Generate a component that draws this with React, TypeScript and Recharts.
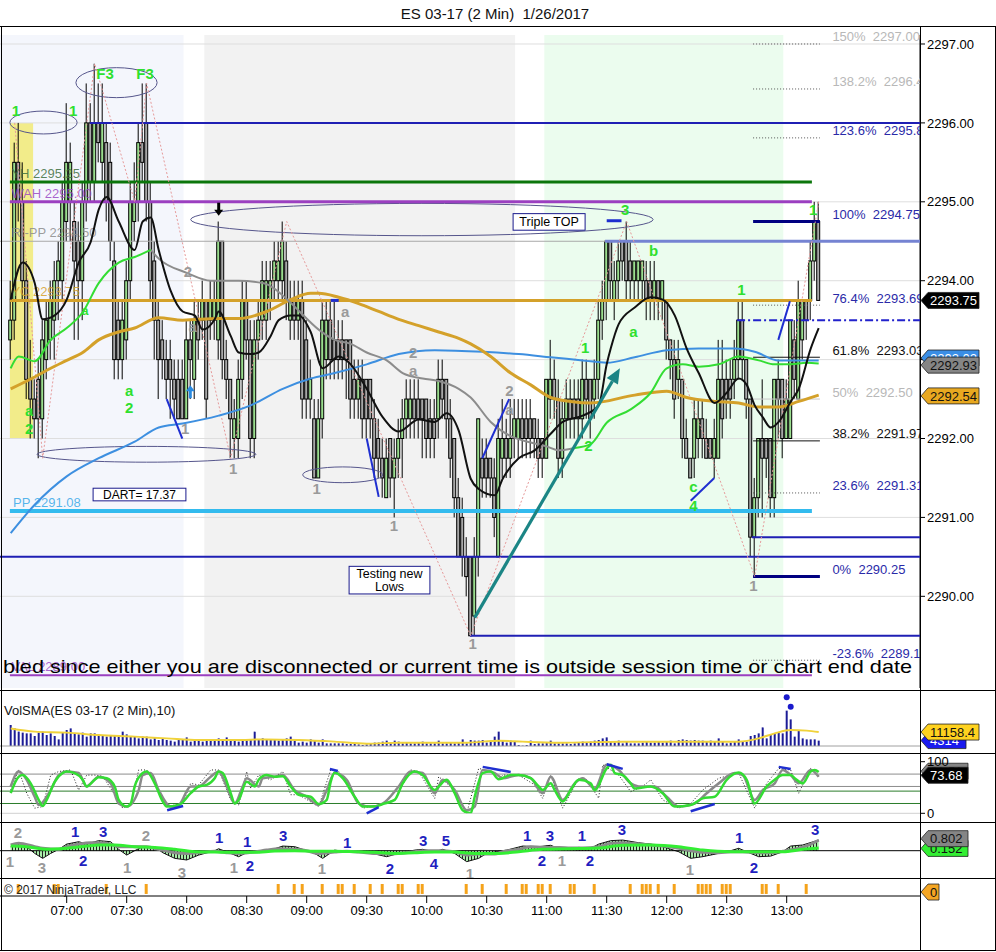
import React from "react";
import {
  ComposedChart, Bar, Line, Area, XAxis, YAxis, ReferenceLine, ReferenceArea, ReferenceDot,
} from "recharts";

const FONT = "'Liberation Sans', Arial, Helvetica, sans-serif";
const CW = 996;
const XD: [number, number] = [-2.675, 227.325];
const PD: [number, number] = [2288.838, 2297.114];

const priceTicks = [2290, 2291, 2292, 2293, 2294, 2295, 2296, 2297];
const timeTicks = [14, 29, 44, 59, 74, 89, 104, 119, 134, 149, 164, 179, 194];
const timeLabels = ["07:00", "07:30", "08:00", "08:30", "09:00", "09:30", "10:00", "10:30", "11:00", "11:30", "12:00", "12:30", "13:00"];

const opens = [
  2293.25, 2293.5, 2295.5, 2295.0, 2294.0, 2292.75, 2292.5, 2292.75, 2292.25, 2293.0,
  2293.25, 2293.5, 2294.0, 2294.0, 2294.75, 2295.0, 2294.75, 2294.5, 2294.0, 2295.0,
  2296.0, 2295.25, 2296.0, 2295.5, 2295.75, 2295.5, 2294.25, 2293.5, 2293.0, 2293.25,
  2294.0, 2294.75, 2295.0, 2295.75, 2296.0, 2295.0, 2294.25, 2293.5, 2293.25, 2293.0,
  2293.0, 2292.75, 2292.75, 2292.75, 2292.25, 2293.25, 2292.75, 2293.5, 2293.5, 2293.75,
  2293.5, 2293.5, 2293.25, 2294.5, 2293.0, 2292.75, 2292.0, 2292.0, 2292.75, 2293.75,
  2293.25, 2292.0, 2293.25, 2293.5, 2293.5, 2293.75, 2294.0, 2294.0, 2294.0, 2294.25,
  2293.5, 2293.75, 2293.5, 2293.75, 2293.25, 2292.5, 2292.25, 2291.5, 2292.25, 2293.0,
  2293.5, 2293.25, 2293.25, 2293.25, 2293.25, 2293.25, 2292.75, 2292.5, 2292.75, 2292.75,
  2292.75, 2292.25, 2292.0, 2291.75, 2291.25, 2292.0, 2291.5, 2291.75, 2292.0, 2292.25,
  2292.25, 2292.5, 2292.5, 2292.5, 2292.5, 2292.25, 2292.25, 2292.25, 2292.75, 2292.75,
  2292.25, 2292.0, 2291.25, 2291.0, 2290.5, 2290.5, 2289.75, 2290.5, 2291.75, 2291.75,
  2291.75, 2291.5, 2290.5, 2291.75, 2292.0, 2291.75, 2292.0, 2292.0, 2292.25, 2292.25,
  2292.25, 2292.25, 2292.0, 2292.0, 2291.75, 2292.5, 2292.75, 2292.5, 2291.75, 2292.25,
  2292.5, 2292.5, 2292.5, 2292.25, 2292.75, 2292.75, 2292.5, 2292.75, 2293.5, 2293.75,
  2294.5, 2293.75, 2294.0, 2294.5, 2294.5, 2294.25, 2294.0, 2294.0, 2294.0, 2294.0,
  2294.0, 2293.75, 2294.0, 2293.75, 2293.75, 2293.25, 2293.0, 2292.75, 2292.75, 2292.0,
  2291.75, 2291.75, 2292.0, 2292.25, 2292.0, 2292.0, 2291.75, 2291.75, 2292.75, 2292.75,
  2292.75, 2292.75, 2293.0, 2293.5, 2293.0, 2292.5, 2290.75, 2291.25, 2292.0, 2292.0,
  2292.0, 2291.25, 2292.75, 2292.75, 2292.0, 2292.0, 2293.25, 2292.5, 2293.25, 2293.75,
  2293.75, 2294.25, 2294.75,
];
const highs = [
  2294.0, 2295.75, 2296.0, 2295.5, 2294.25, 2293.25, 2292.75, 2293.0, 2293.5, 2293.75,
  2294.0, 2294.25, 2294.5, 2295.25, 2296.25, 2295.75, 2295.0, 2294.75, 2295.25, 2296.5,
  2296.25, 2296.75, 2296.5, 2296.5, 2296.0, 2295.75, 2294.5, 2293.75, 2293.75, 2294.25,
  2295.25, 2295.5, 2296.0, 2296.5, 2296.5, 2295.25, 2294.5, 2293.75, 2293.5, 2293.25,
  2293.25, 2293.0, 2293.0, 2293.0, 2293.5, 2293.5, 2293.75, 2293.75, 2294.0, 2293.75,
  2294.0, 2294.0, 2294.75, 2294.5, 2293.25, 2292.75, 2292.5, 2293.0, 2294.0, 2294.0,
  2293.5, 2293.5, 2293.75, 2294.25, 2294.25, 2294.25, 2294.5, 2294.5, 2294.75, 2294.5,
  2294.0, 2294.0, 2294.0, 2294.0, 2293.5, 2293.0, 2292.5, 2292.5, 2293.75, 2293.75,
  2293.75, 2293.75, 2293.5, 2293.5, 2293.25, 2293.25, 2293.0, 2293.0, 2293.0, 2292.75,
  2292.75, 2292.5, 2292.25, 2292.0, 2292.0, 2292.0, 2292.0, 2292.25, 2292.5, 2292.75,
  2292.75, 2292.75, 2292.75, 2292.5, 2292.5, 2292.5, 2292.5, 2293.0, 2293.0, 2292.75,
  2292.5, 2292.0, 2291.5, 2291.25, 2290.75, 2290.5, 2290.75, 2292.25, 2292.0, 2292.0,
  2291.75, 2291.75, 2292.25, 2292.5, 2292.25, 2292.5, 2292.5, 2292.5, 2292.5, 2292.5,
  2292.5, 2292.25, 2292.25, 2292.0, 2292.75, 2293.25, 2293.0, 2292.75, 2292.5, 2292.75,
  2292.75, 2292.75, 2292.75, 2293.0, 2293.0, 2292.75, 2293.0, 2293.75, 2294.0, 2294.5,
  2294.5, 2294.25, 2294.5, 2294.5, 2294.75, 2294.5, 2294.25, 2294.25, 2294.25, 2294.25,
  2294.25, 2294.25, 2294.0, 2294.0, 2293.75, 2293.25, 2293.25, 2293.25, 2292.75, 2292.25,
  2291.75, 2292.5, 2292.5, 2292.5, 2292.25, 2292.0, 2292.25, 2293.25, 2293.25, 2293.0,
  2293.0, 2293.25, 2293.75, 2293.75, 2293.0, 2292.5, 2291.5, 2292.0, 2292.75, 2292.0,
  2292.0, 2292.75, 2293.0, 2292.75, 2292.75, 2293.5, 2293.5, 2294.0, 2293.75, 2293.75,
  2294.5, 2295.0, 2295.0,
];
const lows = [
  2293.0, 2293.25, 2294.75, 2293.75, 2292.5, 2292.0, 2292.0, 2291.75, 2292.0, 2292.75,
  2293.0, 2293.0, 2293.5, 2293.75, 2294.5, 2294.5, 2293.25, 2293.25, 2293.5, 2294.75,
  2295.0, 2295.0, 2295.5, 2295.25, 2294.75, 2294.25, 2292.75, 2292.75, 2292.75, 2293.0,
  2293.75, 2294.5, 2294.75, 2295.25, 2294.75, 2293.75, 2293.0, 2292.5, 2292.75, 2292.5,
  2292.25, 2292.25, 2292.25, 2292.25, 2292.25, 2292.5, 2292.5, 2293.0, 2293.25, 2292.25,
  2293.25, 2293.25, 2293.0, 2292.75, 2292.5, 2291.75, 2291.75, 2291.75, 2292.5, 2293.0,
  2291.75, 2291.75, 2293.0, 2293.25, 2293.25, 2293.5, 2293.75, 2293.75, 2293.75, 2293.5,
  2293.25, 2293.25, 2293.25, 2292.25, 2292.25, 2292.25, 2291.5, 2291.5, 2292.0, 2292.75,
  2292.75, 2292.75, 2292.75, 2292.75, 2292.5, 2292.25, 2292.25, 2292.25, 2292.0, 2292.0,
  2292.0, 2291.5, 2291.5, 2291.25, 2291.25, 2291.25, 2291.0, 2291.5, 2291.5, 2292.0,
  2292.0, 2292.0, 2292.0, 2291.75, 2291.75, 2291.75, 2291.75, 2292.0, 2292.25, 2292.0,
  2291.5, 2291.0, 2290.5, 2290.25, 2290.0, 2289.5, 2289.5, 2290.25, 2291.25, 2291.25,
  2291.25, 2290.75, 2290.5, 2291.5, 2291.5, 2291.5, 2291.75, 2291.75, 2291.75, 2291.75,
  2291.75, 2291.75, 2291.5, 2291.5, 2291.75, 2292.25, 2292.25, 2291.5, 2291.5, 2292.0,
  2292.0, 2292.0, 2292.0, 2292.0, 2292.25, 2292.0, 2292.25, 2292.5, 2293.25, 2293.5,
  2293.75, 2293.5, 2293.75, 2294.0, 2293.75, 2293.75, 2293.75, 2293.75, 2293.75, 2293.5,
  2293.5, 2293.5, 2293.5, 2293.5, 2293.0, 2292.75, 2292.25, 2292.5, 2291.75, 2291.75,
  2291.5, 2291.5, 2291.75, 2291.75, 2291.75, 2291.75, 2291.5, 2291.75, 2292.0, 2292.25,
  2292.25, 2292.5, 2292.75, 2292.75, 2292.25, 2290.5, 2290.25, 2291.0, 2291.0, 2291.5,
  2291.0, 2291.0, 2292.0, 2291.75, 2292.0, 2292.0, 2292.5, 2292.5, 2293.0, 2293.25,
  2293.5, 2294.0, 2293.75,
];
const closes = [
  2293.5, 2295.5, 2295.0, 2294.0, 2292.75, 2292.5, 2292.25, 2292.25, 2293.25, 2293.5,
  2293.75, 2294.0, 2294.25, 2295.0, 2295.5, 2295.5, 2294.25, 2294.0, 2295.0, 2296.0,
  2295.25, 2296.0, 2295.75, 2296.0, 2295.0, 2294.5, 2293.0, 2293.0, 2293.5, 2294.0,
  2295.0, 2295.0, 2295.75, 2295.5, 2295.0, 2294.0, 2293.5, 2293.0, 2293.0, 2292.75,
  2292.75, 2292.5, 2292.25, 2292.25, 2293.25, 2293.0, 2293.5, 2293.25, 2293.75, 2292.5,
  2293.75, 2293.75, 2294.5, 2293.0, 2292.75, 2292.25, 2292.25, 2292.75, 2293.75, 2293.25,
  2292.0, 2293.25, 2293.5, 2294.0, 2294.0, 2294.0, 2294.25, 2294.25, 2294.5, 2293.75,
  2293.75, 2293.5, 2293.75, 2292.5, 2292.5, 2292.75, 2291.5, 2292.25, 2293.5, 2293.5,
  2293.0, 2293.0, 2293.0, 2293.0, 2293.0, 2292.5, 2292.5, 2292.75, 2292.25, 2292.25,
  2292.25, 2291.75, 2291.75, 2291.5, 2291.75, 2291.5, 2291.75, 2292.0, 2292.25, 2292.5,
  2292.5, 2292.25, 2292.25, 2292.25, 2292.0, 2292.0, 2292.0, 2292.75, 2292.5, 2292.25,
  2291.75, 2291.25, 2290.5, 2290.5, 2290.25, 2289.5, 2290.5, 2292.25, 2291.5, 2291.5,
  2291.5, 2291.0, 2292.0, 2292.0, 2291.75, 2292.0, 2292.25, 2292.25, 2292.0, 2292.0,
  2292.0, 2292.0, 2291.75, 2291.75, 2292.75, 2292.75, 2292.5, 2291.75, 2292.25, 2292.5,
  2292.25, 2292.25, 2292.25, 2292.75, 2292.5, 2292.25, 2292.75, 2293.5, 2293.75, 2294.5,
  2294.0, 2294.0, 2294.25, 2294.25, 2294.0, 2294.0, 2294.25, 2294.25, 2294.25, 2293.75,
  2293.75, 2294.0, 2293.75, 2294.0, 2293.25, 2293.0, 2292.5, 2293.0, 2292.0, 2291.75,
  2291.5, 2292.25, 2292.25, 2292.0, 2291.75, 2291.75, 2292.0, 2292.75, 2292.25, 2292.5,
  2292.5, 2293.0, 2293.5, 2293.0, 2292.5, 2290.75, 2291.25, 2292.0, 2291.75, 2291.75,
  2291.25, 2292.75, 2292.5, 2292.0, 2292.5, 2293.5, 2292.75, 2293.75, 2293.75, 2293.5,
  2294.25, 2294.75, 2293.75,
];
const volumes = [
  16800, 14100, 11500, 10700, 10100, 10100, 8000, 10700, 11500, 8800,
  10100, 8000, 5300, 10700, 12800, 14100, 10100, 9300, 10700, 7500,
  10100, 10100, 8800, 8000, 7500, 8000, 8800, 7500, 11500, 9300,
  7500, 8000, 6100, 7500, 7500, 5300, 6900, 4800, 6100, 4800,
  4300, 3500, 4800, 5300, 6900, 3500, 4800, 4300, 3500, 4800,
  4300, 4300, 6100, 5300, 6900, 5300, 4800, 3500, 4300, 5300,
  5300, 11500, 4800, 6100, 5300, 4800, 5300, 4300, 4800, 6100,
  7500, 4300, 2700, 3500, 2700, 5300, 4800, 2700, 5300, 2100,
  2100, 2100, 2100, 2100, 1600, 1600, 1600, 1300, 800, 1300,
  1600, 2700, 2700, 3500, 4300, 2700, 4300, 3500, 2100, 2700,
  2100, 2100, 2700, 3500, 2100, 2100, 2100, 4300, 2100, 2100,
  2700, 2100, 2700, 5300, 2100, 4800, 4300, 4300, 4800, 2700,
  4300, 7500, 11500, 4800, 2700, 4300, 3500, 800, 300, 800,
  4300, 1600, 2100, 2100, 2700, 4300, 2100, 2100, 2100, 2100,
  1600, 2100, 2700, 3500, 2700, 3500, 4300, 4800, 6100, 6900,
  3500, 2700, 4300, 2100, 3500, 2100, 2100, 2100, 2700, 3500,
  2700, 2700, 3500, 2700, 3500, 4300, 2100, 4800, 5300, 4800,
  4300, 4800, 4300, 4300, 3500, 4300, 3500, 6100, 3500, 2100,
  2700, 3500, 5300, 3500, 3500, 8000, 8800, 10100, 14900, 6100,
  8800, 10100, 10700, 10100, 28300, 21300, 7500, 12800, 6100, 5300,
  5300, 5300, 4300,
];

const blackMA: [number, number][] = [
  [0, 2293.76], [3, 2294.23], [6, 2293.97], [8, 2293.51], [11, 2293.56], [14, 2293.76], [17, 2294.23], [20, 2294.49],
  [22, 2294.9], [24, 2295.06], [27, 2294.75], [31, 2294.39], [33, 2294.75], [35, 2294.8], [37, 2294.39], [40, 2293.87],
  [43, 2293.61], [46, 2293.56], [48, 2293.38], [51, 2293.51], [52, 2293.61], [55, 2293.3], [57, 2293.09], [60, 2293.07],
  [62, 2293.09], [65, 2293.3], [67, 2293.5], [70, 2293.56], [72, 2293.56], [75, 2293.35], [78, 2292.89], [82, 2293.04],
  [85, 2292.94], [89, 2292.63], [93, 2292.27], [97, 2292.09], [102, 2292.24], [106, 2292.21], [109, 2292.32], [112, 2292.1],
  [115, 2291.49], [117, 2291.36], [121, 2291.28], [123, 2291.49], [127, 2291.75], [131, 2291.85], [135, 2292.06], [138, 2292.21],
  [143, 2292.29], [147, 2292.42], [149, 2292.94], [150, 2293.14], [152, 2293.45], [156, 2293.66], [160, 2293.79], [163, 2293.76],
  [166, 2293.56], [169, 2293.14], [172, 2292.83], [176, 2292.45], [179, 2292.58], [182, 2292.76], [184, 2292.68], [186, 2292.42],
  [188, 2292.27], [190, 2292.14], [192, 2292.21], [195, 2292.47], [197, 2292.63], [200, 2293.14], [202, 2293.4],
];
const greenMA1: [number, number][] = [
  [0, 2292.89], [2, 2293.04], [6, 2292.98], [10, 2293.25], [14, 2293.4], [18, 2293.6], [22, 2293.97], [27, 2294.23], [31, 2294.3], [35, 2294.39],
];
const grayMA: [number, number][] = [
  [35, 2294.39], [37, 2294.28], [44, 2294.1], [50, 2294.0], [57, 2294.0], [63, 2293.97], [70, 2293.72], [72, 2293.62], [77, 2293.38],
  [81, 2293.25], [85, 2293.2], [89, 2293.09], [94, 2292.99], [98, 2292.83], [103, 2292.76], [107, 2292.73], [112, 2292.63],
  [115, 2292.52], [120, 2292.21], [125, 2292.03], [130, 2291.95], [134, 2291.9], [137, 2291.85], [141, 2291.88],
];
const greenMA2: [number, number][] = [
  [141, 2291.88], [145, 2291.93], [149, 2292.2], [155, 2292.37], [160, 2292.58], [164, 2292.89], [168, 2292.94], [172, 2292.91],
  [177, 2292.94], [182, 2293.04], [187, 2292.99], [191, 2292.94], [195, 2292.94], [199, 2292.96], [202, 2292.95],
];
const goldMA: [number, number][] = [
  [0, 2292.63], [6, 2292.78], [10, 2292.89], [14, 2292.99], [18, 2293.09], [22, 2293.25], [27, 2293.35], [31, 2293.4], [37, 2293.53],
  [43, 2293.5], [52, 2293.52], [57, 2293.52], [64, 2293.61], [70, 2293.76], [75, 2293.84], [77, 2293.84], [82, 2293.79], [87, 2293.71],
  [92, 2293.61], [97, 2293.51], [102, 2293.43], [107, 2293.35], [112, 2293.27], [115, 2293.2], [120, 2293.04], [125, 2292.83],
  [130, 2292.68], [135, 2292.52], [140, 2292.47], [145, 2292.45], [156, 2292.55], [164, 2292.6], [169, 2292.52], [176, 2292.47],
  [182, 2292.45], [187, 2292.4], [192, 2292.4], [197, 2292.47], [202, 2292.55],
];
const blueMA: [number, number][] = [
  [0, 2290.8], [6, 2291.16], [14, 2291.52], [22, 2291.75], [31, 2291.96], [37, 2292.14], [43, 2292.19], [52, 2292.29], [60, 2292.42],
  [68, 2292.63], [75, 2292.76], [81, 2292.83], [89, 2292.94], [97, 2293.07], [106, 2293.12], [118, 2293.1], [127, 2293.07],
  [135, 2293.03], [143, 2292.99], [149, 2292.96], [156, 2293.03], [164, 2293.12], [172, 2293.14], [181, 2293.14], [186, 2293.1],
  [192, 2292.99], [202, 2292.99],
];
const zigzag: [number, number][] = [
  [1, 2296.0], [8, 2291.75], [21, 2296.75], [31, 2295.0], [34, 2296.5], [55, 2291.75], [69, 2294.75], [115, 2289.5],
  [154, 2294.75], [186, 2290.25], [202, 2295.0],
];
const volSMA: [number, number][] = [
  [0, 14000], [6, 11500], [14, 10700], [22, 8800], [31, 7500], [39, 6100], [47, 4800], [56, 4800], [64, 5300], [72, 4800],
  [81, 3500], [89, 1900], [97, 2700], [106, 2700], [114, 2700], [122, 4300], [128, 3500], [137, 2700], [153, 3500], [170, 3500],
  [182, 3500], [187, 6100], [191, 10100], [195, 12800], [199, 12300], [202, 11200],
];
const stochGreen: [number, number][] = [
  [0, 39], [2, 71], [3, 74], [5, 58], [7, 26], [8, 14], [9, 26], [11, 61], [13, 78], [14, 81], [16, 78], [18, 65], [19, 52], [21, 65],
  [22, 70], [24, 68], [26, 52], [27, 26], [29, 13], [30, 19], [31, 52], [33, 78], [34, 81], [36, 58], [38, 23], [39, 13], [42, 16],
  [45, 39], [47, 52], [49, 55], [51, 68], [52, 81], [53, 78], [55, 39], [56, 19], [57, 26], [59, 61], [61, 52], [62, 65], [64, 74],
  [66, 71], [68, 72], [70, 52], [72, 36], [75, 32], [77, 18], [79, 26], [80, 61], [81, 79], [83, 68], [86, 32], [88, 13], [91, 13],
  [93, 18], [96, 26], [98, 58], [101, 81], [103, 74], [106, 45], [107, 52], [109, 65], [111, 39], [113, 6], [115, 0], [116, 32],
  [118, 78], [120, 81], [122, 66], [125, 74], [127, 74], [130, 68], [132, 52], [133, 45], [135, 58], [136, 45], [138, 23], [140, 45],
  [142, 65], [145, 58], [146, 45], [149, 87], [150, 94], [151, 78], [153, 74], [155, 58], [156, 48], [160, 52], [163, 39], [166, 13],
  [170, 16], [173, 29], [176, 32], [179, 65], [182, 79], [184, 65], [186, 19], [189, 52], [191, 65], [193, 74], [195, 74], [196, 68],
  [198, 58], [200, 81], [201, 84], [202, 80],
];
const stochGray: [number, number][] = [
  [0, 52], [2, 81], [4, 65], [6, 32], [7, 16], [10, 45], [12, 74], [14, 81], [17, 78], [19, 52], [20, 58], [22, 71], [25, 58], [27, 19],
  [29, 13], [32, 45], [33, 74], [35, 78], [37, 45], [40, 13], [42, 16], [45, 52], [47, 52], [50, 71], [52, 81], [54, 52], [56, 19],
  [58, 52], [59, 68], [62, 52], [63, 68], [66, 71], [68, 74], [71, 45], [74, 32], [77, 16], [79, 45], [81, 78], [84, 65], [87, 19],
  [90, 13], [93, 19], [97, 52], [100, 81], [103, 78], [106, 39], [108, 65], [111, 45], [114, 6], [116, 13], [118, 84], [121, 78],
  [123, 68], [127, 74], [130, 68], [133, 39], [135, 71], [138, 26], [141, 58], [143, 68], [146, 48], [149, 94], [152, 84], [155, 58],
  [157, 52], [161, 52], [164, 32], [167, 13], [171, 19], [174, 39], [177, 58], [181, 78], [183, 74], [186, 26], [188, 45], [191, 58],
  [193, 84], [195, 74], [197, 58], [200, 84], [202, 71],
];
const stochDot: [number, number][] = [
  [0, 45], [2, 84], [4, 39], [6, 10], [8, 13], [10, 74], [12, 81], [15, 84], [17, 45], [19, 74], [21, 74], [23, 72], [26, 36], [28, 10],
  [30, 16], [32, 84], [34, 84], [37, 45], [39, 13], [43, 19], [45, 58], [47, 55], [50, 84], [52, 84], [55, 26], [57, 16], [59, 81],
  [60, 48], [62, 74], [65, 65], [68, 81], [70, 36], [72, 36], [77, 13], [80, 84], [82, 81], [85, 45], [88, 10], [92, 16], [96, 26],
  [100, 84], [102, 81], [106, 29], [107, 71], [110, 52], [114, 0], [117, 87], [120, 81], [122, 65], [123, 74], [127, 74], [131, 55],
  [133, 29], [135, 74], [138, 10], [142, 68], [144, 65], [147, 29], [148, 94], [152, 74], [155, 42], [158, 52], [160, 65], [163, 26],
  [167, 10], [170, 19], [173, 45], [177, 68], [182, 78], [186, 10], [189, 58], [192, 87], [195, 84], [197, 39], [200, 87], [202, 71],
];
const macdGray: [number, number][] = [
  [0, 0.38], [2, 0.49], [6, 0.27], [8, 0.16], [12, 0.09], [14, 0.27], [17, 0.44], [20, 0.53], [22, 0.53], [25, 0.44], [27, 0.27],
  [31, 0.27], [34, 0.27], [37, 0.09], [41, -0.13], [44, -0.18], [47, -0.13], [51, -0.04], [54, -0.13], [57, -0.18], [61, -0.09],
  [64, 0.04], [67, 0.13], [71, 0.09], [74, 0], [77, -0.18], [81, -0.09], [84, -0.04], [87, -0.09], [91, -0.18], [94, -0.22],
  [97, -0.18], [101, -0.07], [104, 0], [107, 0], [111, -0.07], [114, -0.29], [117, -0.22], [121, -0.22], [123, -0.07], [127, 0.09],
  [130, 0.27], [133, 0.22], [137, 0.22], [140, 0.18], [143, 0.18], [147, 0.27], [150, 0.49], [153, 0.53], [157, 0.44], [160, 0.38],
  [163, 0.31], [167, 0.16], [170, 0], [173, -0.11], [177, -0.13], [180, -0.07], [183, -0.07], [187, -0.13], [190, -0.13],
  [193, -0.04], [197, 0.16], [200, 0.44], [202, 0.7],
];
const macdGreen: [number, number][] = [
  [0, 0.31], [4, 0.27], [9, 0.09], [14, 0.16], [19, 0.31], [22, 0.38], [26, 0.38], [31, 0.27], [36, 0.22], [41, 0.09], [46, -0.07],
  [51, -0.09], [56, -0.11], [61, -0.11], [66, -0.02], [71, 0], [76, -0.04], [81, -0.04], [86, -0.07], [91, -0.11], [96, -0.18],
  [101, -0.13], [106, -0.09], [111, -0.09], [116, -0.18], [122, -0.18], [127, -0.07], [133, 0.09], [140, 0.13], [147, 0.18],
  [153, 0.36], [160, 0.38], [167, 0.27], [173, 0.04], [180, -0.07], [187, -0.07], [193, -0.07], [198, 0.09], [202, 0.18],
];
const macdHist: [number, number][] = [
  [0, 0.27], [2, 0.53], [4, 0.27], [6, -0.18], [8, -0.51], [10, -0.18], [12, 0.09], [14, 0.44], [17, 0.6], [19, 0.44], [21, 0.6],
  [22, 0.67], [25, 0.6], [27, 0.09], [29, -0.29], [31, 0], [33, 0.27], [36, 0.27], [38, -0.13], [41, -0.51], [44, -0.62], [47, -0.29],
  [51, 0], [52, 0.13], [55, -0.18], [57, -0.4], [59, -0.13], [62, -0.07], [66, 0.13], [68, 0.31], [71, 0.27], [73, 0.09], [76, -0.18],
  [78, -0.51], [81, 0.04], [84, -0.07], [87, -0.09], [91, -0.22], [94, -0.4], [97, -0.18], [101, 0.04], [103, 0.09], [106, -0.07],
  [108, 0.09], [111, -0.18], [114, -0.73], [117, -0.51], [119, -0.18], [124, 0.04], [128, 0.31], [132, 0.27], [135, 0.36],
  [138, 0.04], [142, 0.22], [145, 0.16], [147, 0.44], [150, 0.67], [153, 0.71], [157, 0.53], [160, 0.44], [163, 0.27], [167, -0.07],
  [170, -0.51], [173, -0.4], [177, -0.18], [180, 0], [182, 0.16], [185, -0.18], [187, -0.4], [190, -0.36], [193, -0.07], [195, 0.31],
  [198, 0.38], [202, 0.71],
];
const markerBars = [
  2, 11, 12, 24, 34, 67, 71, 73, 78, 82, 83, 86, 90, 93, 97, 98, 102, 103, 114, 118, 124, 128, 129, 132, 133, 135, 140, 141, 146,
  155, 158, 159, 160, 162, 166, 172, 173, 174, 175, 178, 179, 180, 188, 189, 192, 199,
];

const LV = { r2: 2296.0, yh: 2295.25, wah: 2295.0, ripp: 2294.5, top3: 2294.5, yc: 2293.75, pp: 2291.08, s1: 2290.5, low: 2289.5, lo2: 2290.75, val: 2289.0, dd: 2293.5 };
const fibPct = ["150%", "138.2%", "123.6%", "100%", "76.4%", "61.8%", "50%", "38.2%", "23.6%", "0%", "-23.6%"];
const fibPrice = [2297.0, 2296.43, 2295.81, 2294.75, 2293.69, 2293.03, 2292.5, 2291.97, 2291.31, 2290.25, 2289.19];
const fibKind = ["dot", "dot", "dot", "thick", "dot", "solid", "light", "solid", "dot", "thick", "dot"];
const fibTextColor = ["#b8b8b8", "#b8b8b8", "#2a2aa8", "#2a2aa8", "#2a2aa8", "#111", "#b8b8b8", "#111", "#2a2aa8", "#2a2aa8", "#2a2aa8"];

const greenLabels: [number, number, string][] = [
  [1.3, 2296.15, "1"], [15.6, 2296.15, "1"], [23.6, 2296.63, "F3"], [33.6, 2296.63, "F3"],
  [4.6, 2292.36, "a"], [4.6, 2292.13, "2"], [29.6, 2292.61, "a"], [29.6, 2292.39, "2"],
  [143.6, 2293.15, "1"], [153.6, 2294.9, "3"], [160.7, 2294.38, "b"], [155.7, 2293.36, "a"], [144.4, 2291.91, "2"],
  [182.7, 2293.89, "1"], [170.7, 2291.39, "c"], [170.7, 2291.15, "4"], [200.6, 2294.9, "1"],
];
const grayLabels: [number, number, string][] = [
  [44.3, 2294.11, "2"], [45.5, 2293.42, "a"], [43.6, 2292.13, "1"], [55.6, 2291.62, "1"], [76.5, 2291.36, "1"],
  [83.6, 2293.61, "a"], [100.6, 2293.09, "2"], [100.6, 2292.86, "a"], [95.8, 2290.89, "1"], [124.7, 2292.61, "2"],
  [124.7, 2292.37, "a"], [115.5, 2289.4, "1"], [185.7, 2290.14, "1"],
];
const ellipses: [number, number, number, number][] = [
  [-0.2, 16.6, 2295.86, 2296.15], [16.3, 36.6, 2296.32, 2296.7], [6.6, 61.3, 2291.7, 2291.9],
  [45, 160.6, 2294.57, 2294.98], [73, 93, 2291.44, 2291.64],
];
const blueStrokes: [number, number, number, number][] = [
  [39, 2292.5, 42.9, 2292.0], [89, 2292.0, 92, 2291.26], [117.9, 2291.75, 124.6, 2292.5],
  [170, 2291.21, 175.9, 2291.5], [191.9, 2293.25, 194.8, 2293.74],
];
const blueDashes: [number, number, number][] = [[149, 152.7, 2294.76], [80, 82, 2293.75]];
const trendArrow: [number, number, number, number] = [116, 2289.73, 152.3, 2292.89];
const stochStrokes: [number, number, number, number][] = [
  [39.1, 6, 43.1, 14], [79.8, 86, 81.8, 82], [89, 0, 92, 12], [118, 90, 125, 80], [149, 95, 153, 86], [170, 4, 176, 18], [192, 90, 195, 86],
];
const macdBlueLabels: [number, number, string][] = [
  [16.1, 1.25, "1"], [18.1, -0.69, "2"], [23.1, 1.25, "3"], [52.1, 0.85, "1"], [59.1, 0.58, "1"], [59.8, -1.02, "2"],
  [68.1, 0.98, "3"], [84.1, 0.51, "1"], [94.8, -1.22, "2"], [103.1, 0.65, "3"], [108.8, 0.65, "5"], [105.8, -0.89, "4"],
  [129.1, 0.98, "1"], [134.8, 0.98, "3"], [132.8, -0.69, "2"], [142.8, 0.98, "1"], [144.8, -0.69, "2"], [152.8, 1.38, "3"],
  [182.1, 0.85, "1"], [185.8, -1.15, "2"], [201.1, 1.38, "3"],
];
const macdGrayLabels: [number, number, string][] = [
  [1.8, 1.19, "2"], [-0.2, -0.75, "1"], [7.8, -1.15, "3"], [33.8, 0.98, "2"], [29.1, -1.15, "1"], [42.8, -1.45, "3"],
  [55.8, -1.15, "1"], [77.8, -1.22, "1"], [114.8, -1.5, "1"], [137.8, -0.69, "1"], [169.8, -1.28, "1"],
];

const sparseSeries: Record<string, [number, number][]> = {
  blackMA, greenMA1, grayMA, greenMA2, goldMA, blueMA, zigzag, volSMA, stochGreen, stochGray, stochDot, macdGray, macdGreen, macdHist,
};

function buildRows() {
  const maps: Record<string, Map<number, number>> = {};
  Object.keys(sparseSeries).forEach((k) => {
    maps[k] = new Map(sparseSeries[k].map(([i, v]) => [i, v] as [number, number]));
  });
  return opens.map((o, i) => {
    const r: any = { i, o, h: highs[i], l: lows[i], c: closes[i], vol: volumes[i], mk: markerBars.includes(i) ? [0.17, 1] : null };
    Object.keys(maps).forEach((k) => {
      r[k] = maps[k].has(i) ? maps[k].get(i) : null;
    });
    return r;
  });
}
const rows = buildRows();

const UP = "#9ade8e";
const DN = "#a8a8a8";
const LIME = "#2fe02f";
const GRAYTXT = "#9a9a9a";
const NAVY = "#1f1fb4";

const Candle = (props: any) => {
  const { x, y, width, height, payload } = props;
  if (!payload || y == null) return null;
  const { o, h, l, c } = payload;
  const cx = x + width / 2;
  const span = h - l;
  const py = (v: number) => (span === 0 ? y : y + ((h - v) / span) * height);
  const top = py(Math.max(o, c));
  const bot = py(Math.min(o, c));
  return (
    <g>
      <line x1={cx} x2={cx} y1={y} y2={y + height} stroke="#000" strokeWidth={1} />
      <rect x={cx - 1.5} y={top} width={3} height={Math.max(bot - top, 0.6)} fill={c >= o ? UP : DN} stroke="#000" strokeWidth={1} />
    </g>
  );
};

const Tag = (props: any) => {
  const { viewBox, tagText, tagBg, tagFg, tagW } = props;
  if (!viewBox) return null;
  const x0 = viewBox.x + viewBox.width;
  const y = viewBox.y;
  const bw = tagW ?? 51;
  return (
    <g>
      <polygon
        points={`${x0 + 1},${y} ${x0 + 8},${y - 8} ${x0 + 8 + bw},${y - 8} ${x0 + 8 + bw},${y + 8} ${x0 + 8},${y + 8}`}
        fill={tagBg} stroke="#222" strokeWidth={0.8}
      />
      <text x={x0 + 10} y={y + 4.6} fontSize={13} fill={tagFg} fontFamily={FONT}>{tagText}</text>
    </g>
  );
};

const LevelText = (props: any) => {
  const { viewBox, lt, lc } = props;
  if (!viewBox) return null;
  return <text x={viewBox.x + 1.5} y={viewBox.y - 4} fontSize={13} fill={lc} fillOpacity={0.85} fontFamily={FONT}>{lt}</text>;
};

const FibText = (props: any) => {
  const { viewBox, ft, fc } = props;
  if (!viewBox) return null;
  return (
    <text x={viewBox.x + viewBox.width + 12.5} y={viewBox.y - 2.5} fontSize={13} fill={fc} fontFamily={FONT} clipPath="url(#mainclip)" style={{ whiteSpace: "pre" }}>
      {ft}
    </text>
  );
};

const textShape = (t: string, color: string, size = 15, bold = true) => (p: any) => (
  <text x={p.cx} y={p.cy} dy="0.36em" textAnchor="middle" fill={color} fontSize={size} fontWeight={bold ? "bold" : "normal"} fontFamily={FONT}>
    {t}
  </text>
);

const EllipseShape = (p: any) => (
  <ellipse cx={p.x + p.width / 2} cy={p.y + p.height / 2} rx={Math.abs(p.width) / 2} ry={Math.abs(p.height) / 2} fill="none" stroke="#56568c" strokeWidth={1} />
);

const boxShape = (lines: string[], size = 12.5) => (p: any) => (
  <g>
    <rect x={p.x} y={p.y} width={p.width} height={p.height} fill="#fff" stroke="#1a1a8c" strokeWidth={1} />
    {lines.map((t, j) => (
      <text key={j} x={p.x + p.width / 2} y={p.y + p.height / 2 + (j - (lines.length - 1) / 2) * 13.5} dy="0.36em" textAnchor="middle" fontSize={size} fill="#000" fontFamily={FONT}>
        {t}
      </text>
    ))}
  </g>
);

const ArrowLine = (p: any) => {
  const { x1, y1, x2, y2 } = p;
  if (x1 == null) return null;
  const ang = Math.atan2(y2 - y1, x2 - x1);
  const L = 15;
  const Wd = 6.5;
  const bx = x2 - L * Math.cos(ang);
  const by = y2 - L * Math.sin(ang);
  const px = -Math.sin(ang) * Wd;
  const pyy = Math.cos(ang) * Wd;
  return (
    <g>
      <line x1={x1} y1={y1} x2={bx} y2={by} stroke="#1b8585" strokeWidth={3.2} />
      <polygon points={`${x2},${y2} ${bx + px},${by + pyy} ${bx - px},${by - pyy}`} fill="#1b8585" />
    </g>
  );
};

const DownArrow = (p: any) => (
  <g>
    <line x1={p.cx} y1={p.cy - 7} x2={p.cx} y2={p.cy + 1} stroke="#000" strokeWidth={3} />
    <polygon points={`${p.cx - 4.5},${p.cy} ${p.cx + 4.5},${p.cy} ${p.cx},${p.cy + 6}`} fill="#000" />
  </g>
);
const UpArrow = (p: any) => (
  <g>
    <line x1={p.cx} y1={p.cy + 7} x2={p.cx} y2={p.cy - 1} stroke="#2a8ae0" strokeWidth={3} />
    <polygon points={`${p.cx - 4.5},${p.cy} ${p.cx + 4.5},${p.cy} ${p.cx},${p.cy - 6}`} fill="#2a8ae0" />
  </g>
);

const abs = (top: number, h: number): React.CSSProperties => ({ position: "absolute", left: 0, top, width: CW, height: h });

const hiddenX = <XAxis type="number" dataKey="i" domain={XD} hide allowDataOverflow />;

export default function App() {
  const mainMargin = { top: 35, right: 76, bottom: 2, left: 0 };
  return (
    <div style={{ position: "absolute", left: 0, top: 0, width: CW, height: 952, background: "#fff", fontFamily: FONT, overflow: "hidden" }}>
      <svg width={0} height={0} style={{ position: "absolute" }}>
        <defs>
          <clipPath id="mainclip">
            <rect x={0} y={0} width={920} height={690} />
          </clipPath>
          <pattern id="hatch" width={3} height={4} patternUnits="userSpaceOnUse">
            <rect x={0} y={0} width={1} height={4} fill="#222" />
            <rect x={1.5} y={0} width={1} height={4} fill="#55dd55" />
          </pattern>
        </defs>
      </svg>

      {/* MAIN – background layer */}
      <div style={abs(0, 690)}>
        <ComposedChart width={CW} height={690} data={rows} margin={{ top: 35, right: 0, bottom: 2, left: 0 }}>
          {hiddenX}
          <YAxis
            orientation="right" width={76} domain={PD} ticks={priceTicks} allowDataOverflow
            tickFormatter={(v: number) => v.toFixed(2)} tick={{ fill: "#000", fontSize: 13 }}
            tickLine={{ stroke: "#000" }} axisLine={{ stroke: "#000" }} tickSize={5} tickMargin={2}
          />
          <ReferenceArea x1={XD[0]} x2={43.2} fill="#3355cc" fillOpacity={0.055} stroke="none" ifOverflow="visible" />
          <ReferenceArea x1={48.4} x2={126.1} fill="#000000" fillOpacity={0.05} stroke="none" ifOverflow="visible" />
          <ReferenceArea x1={133.4} x2={193.15} fill="#22dd44" fillOpacity={0.09} stroke="none" ifOverflow="visible" />
          <ReferenceArea x1={-0.2} x2={5.6} y1={2292.0} y2={2296.0} fill="#f0e000" fillOpacity={0.45} stroke="none" ifOverflow="visible" />
          {priceTicks.map((p) => (
            <ReferenceLine key={p} y={p} stroke="#dedede" strokeWidth={1} ifOverflow="visible" />
          ))}
          <Line dataKey="c" stroke="none" dot={false} isAnimationActive={false} />
        </ComposedChart>
      </div>

      {/* MAIN – candles */}
      <div style={abs(0, 690)}>
        <ComposedChart width={CW} height={690} data={rows} margin={mainMargin}>
          {hiddenX}
          <YAxis hide domain={PD} allowDataOverflow />
          <Bar dataKey={(d: any) => [d.l, d.h]} barSize={3} shape={Candle} isAnimationActive={false} />
        </ComposedChart>
      </div>

      {/* MAIN – overlay */}
      <div style={abs(0, 690)}>
        <ComposedChart width={CW} height={690} data={rows} margin={mainMargin}>
          {hiddenX}
          <YAxis hide domain={PD} allowDataOverflow />
          <ReferenceLine segment={[{ x: -0.2, y: LV.yh }, { x: 200.3, y: LV.yh }]} stroke="none" ifOverflow="visible" label={<LevelText lt="YH 2295.25" lc="#3f6f3f" />} />
          <ReferenceLine segment={[{ x: -0.2, y: LV.wah }, { x: 200.3, y: LV.wah }]} stroke="none" ifOverflow="visible" label={<LevelText lt="WAH 2295.00" lc="#9b48c4" />} />
          <ReferenceLine segment={[{ x: -0.2, y: LV.ripp }, { x: 200.3, y: LV.ripp }]} stroke="none" ifOverflow="visible" label={<LevelText lt="RI-PP 2294.50" lc="#8c8c8c" />} />
          <ReferenceLine segment={[{ x: -0.2, y: LV.yc }, { x: 200.3, y: LV.yc }]} stroke="none" ifOverflow="visible" label={<LevelText lt="YC 2293.75" lc="#d4a12a" />} />
          <ReferenceLine segment={[{ x: 0.2, y: LV.pp }, { x: 200.3, y: LV.pp }]} stroke="none" ifOverflow="visible" label={<LevelText lt="PP 2291.08" lc="#38a8e8" />} />
          <ReferenceLine segment={[{ x: -0.2, y: LV.val }, { x: 200.3, y: LV.val }]} stroke="none" ifOverflow="visible" label={<LevelText lt="VAL 2289.00" lc="#9b48c4" />} />

          <ReferenceLine segment={[{ x: XD[0], y: LV.ripp }, { x: XD[1], y: LV.ripp }]} stroke="#a8a8a8" strokeWidth={1} ifOverflow="visible" />
          <ReferenceLine segment={[{ x: 19.8, y: LV.r2 }, { x: XD[1], y: LV.r2 }]} stroke={NAVY} strokeWidth={2} ifOverflow="visible" />
          <ReferenceLine segment={[{ x: -0.2, y: LV.yh }, { x: 200.3, y: LV.yh }]} stroke="#0b760b" strokeWidth={3} ifOverflow="visible" />
          <ReferenceLine segment={[{ x: -0.2, y: LV.wah }, { x: 200.3, y: LV.wah }]} stroke="#9b3fc0" strokeWidth={3} ifOverflow="visible" />
          <ReferenceLine segment={[{ x: 148.6, y: LV.top3 }, { x: XD[1], y: LV.top3 }]} stroke="#7583d2" strokeWidth={3} ifOverflow="visible" />
          <ReferenceLine segment={[{ x: -0.2, y: LV.yc }, { x: 200.3, y: LV.yc }]} stroke="#d4a12a" strokeWidth={3} ifOverflow="visible" />
          <ReferenceLine segment={[{ x: -0.2, y: LV.pp }, { x: 200.3, y: LV.pp }]} stroke="#33bbee" strokeWidth={4} ifOverflow="visible" />
          <ReferenceLine segment={[{ x: XD[0], y: LV.s1 }, { x: XD[1], y: LV.s1 }]} stroke={NAVY} strokeWidth={2} ifOverflow="visible" />
          <ReferenceLine segment={[{ x: 114.8, y: LV.low }, { x: XD[1], y: LV.low }]} stroke={NAVY} strokeWidth={2} ifOverflow="visible" />
          <ReferenceLine segment={[{ x: 185.3, y: LV.lo2 }, { x: XD[1], y: LV.lo2 }]} stroke={NAVY} strokeWidth={2} ifOverflow="visible" />
          <ReferenceLine segment={[{ x: -0.2, y: LV.val }, { x: 200.3, y: LV.val }]} stroke="#9b3fc0" strokeWidth={2} ifOverflow="visible" />
          <ReferenceLine segment={[{ x: 181.6, y: LV.dd }, { x: XD[1], y: LV.dd }]} stroke="#2222cc" strokeWidth={2} strokeDasharray="8 3 2 3" ifOverflow="visible" />

          {fibPrice.map((p, j) => {
            const k = fibKind[j];
            const stroke = k === "thick" ? "#000080" : k === "solid" ? "#111" : k === "light" ? "#c8c8c8" : "#555";
            return (
              <ReferenceLine
                key={"fib" + j}
                segment={[{ x: 185.6, y: p }, { x: 202.3, y: p }]}
                stroke={stroke}
                strokeWidth={k === "thick" ? 3 : 1}
                strokeDasharray={k === "dot" ? "1 2" : undefined}
                ifOverflow="visible"
                label={<FibText ft={`${fibPct[j]}\u00a0\u00a0${p.toFixed(2)}`} fc={fibTextColor[j]} />}
              />
            );
          })}

          <Line dataKey="zigzag" stroke="#e69a9a" strokeWidth={1} strokeDasharray="2 2" dot={false} connectNulls type="linear" isAnimationActive={false} />
          <Line dataKey="blueMA" stroke="#3d8fe0" strokeWidth={2} dot={false} connectNulls type="monotone" isAnimationActive={false} />
          <Line dataKey="goldMA" stroke="#d4a12a" strokeWidth={3} dot={false} connectNulls type="monotone" isAnimationActive={false} />
          <Line dataKey="grayMA" stroke="#8c8c8c" strokeWidth={2} dot={false} connectNulls type="monotone" isAnimationActive={false} />
          <Line dataKey="greenMA1" stroke="#33dd33" strokeWidth={2} dot={false} connectNulls type="monotone" isAnimationActive={false} />
          <Line dataKey="greenMA2" stroke="#33dd33" strokeWidth={2} dot={false} connectNulls type="monotone" isAnimationActive={false} />
          <Line dataKey="blackMA" stroke="#111" strokeWidth={2} dot={false} connectNulls type="monotone" isAnimationActive={false} />

          {ellipses.map((e, j) => (
            <ReferenceArea key={"el" + j} x1={e[0]} x2={e[1]} y1={e[2]} y2={e[3]} shape={EllipseShape} ifOverflow="visible" />
          ))}
          {blueStrokes.map((s, j) => (
            <ReferenceLine key={"bs" + j} segment={[{ x: s[0], y: s[1] }, { x: s[2], y: s[3] }]} stroke="#1f2fd0" strokeWidth={2} ifOverflow="visible" />
          ))}
          {blueDashes.map((s, j) => (
            <ReferenceLine key={"bd" + j} segment={[{ x: s[0], y: s[2] }, { x: s[1], y: s[2] }]} stroke="#1f2fd0" strokeWidth={3} ifOverflow="visible" />
          ))}
          <ReferenceLine segment={[{ x: trendArrow[0], y: trendArrow[1] }, { x: trendArrow[2], y: trendArrow[3] }]} shape={ArrowLine} ifOverflow="visible" />
          <ReferenceDot x={52} y={2294.9} r={0} shape={DownArrow} ifOverflow="visible" />
          <ReferenceDot x={44.9} y={2292.6} r={0} shape={UpArrow} ifOverflow="visible" />

          <ReferenceArea x1={20.6} x2={43.8} y1={2291.21} y2={2291.37} shape={boxShape(["DART= 17.37"], 12)} ifOverflow="visible" />
          <ReferenceArea x1={84.6} x2={104.8} y1={2290.03} y2={2290.38} shape={boxShape(["Testing new", "Lows"])} ifOverflow="visible" />
          <ReferenceArea x1={125.6} x2={143.6} y1={2294.64} y2={2294.85} shape={boxShape(["Triple TOP"])} ifOverflow="visible" />

          {greenLabels.map((g, j) => (
            <ReferenceDot key={"gl" + j} x={g[0]} y={g[1]} r={0} shape={textShape(g[2], LIME, 15)} ifOverflow="visible" />
          ))}
          <ReferenceDot x={18.6} y={2293.62} r={0} shape={textShape("a", LIME, 12)} ifOverflow="visible" />
          {grayLabels.map((g, j) => (
            <ReferenceDot key={"gr" + j} x={g[0]} y={g[1]} r={0} shape={textShape(g[2], GRAYTXT, 15)} ifOverflow="visible" />
          ))}

          <ReferenceLine y={2293.02} stroke="none" ifOverflow="visible" label={<Tag tagText="2293.02" tagBg="#3a8ee6" tagFg="#fff" />} />
          <ReferenceLine y={2292.93} stroke="none" ifOverflow="visible" label={<Tag tagText="2292.93" tagBg="#858585" tagFg="#111" />} />
          <ReferenceLine y={2292.54} stroke="none" ifOverflow="visible" label={<Tag tagText="2292.54" tagBg="#e8a820" tagFg="#111" />} />
          <ReferenceLine y={2293.75} stroke="none" ifOverflow="visible" label={<Tag tagText="2293.75" tagBg="#000" tagFg="#fff" />} />
        </ComposedChart>
      </div>

      {/* VOLUME */}
      <div style={abs(690, 63)}>
        <ComposedChart width={CW} height={63} data={rows} margin={{ top: 2, right: 76, bottom: 7, left: 0 }}>
          {hiddenX}
          <YAxis hide domain={[0, 43200]} allowDataOverflow />
          <ReferenceLine y={0} stroke="#a0a0a0" strokeWidth={1} ifOverflow="visible" />
          <Bar dataKey="vol" barSize={2} fill="#1c1c96" isAnimationActive={false} />
          <Line dataKey="volSMA" stroke="#f0d23a" strokeWidth={2} dot={false} connectNulls type="monotone" isAnimationActive={false} />
          <ReferenceDot x={194} y={39000} r={3} fill="#1a1acc" stroke="none" ifOverflow="visible" />
          <ReferenceDot x={195} y={31400} r={3} fill="#1a1acc" stroke="none" ifOverflow="visible" />
          <ReferenceLine y={4314} stroke="none" ifOverflow="visible" label={<Tag tagText="4314" tagBg="#1a1aee" tagFg="#fff" tagW={38} />} />
          <ReferenceLine y={11158.4} stroke="none" ifOverflow="visible" label={<Tag tagText="11158.4" tagBg="#ffd21f" tagFg="#111" />} />
        </ComposedChart>
      </div>

      {/* STOCHASTICS */}
      <div style={abs(753, 69)}>
        <ComposedChart width={CW} height={69} data={rows} margin={{ top: 0, right: 0, bottom: 8.7, left: 0 }}>
          {hiddenX}
          <YAxis
            orientation="right" width={76} domain={[0, 116.86]} ticks={[0, 100]} allowDataOverflow
            tick={{ fill: "#000", fontSize: 13 }} tickLine={{ stroke: "#000" }} axisLine={false} tickSize={5} tickMargin={2}
          />
          <ReferenceLine y={76} stroke="#8c8c8c" ifOverflow="visible" />
          <ReferenceLine y={52} stroke="#8c8c8c" ifOverflow="visible" />
          <ReferenceLine y={43} stroke="#2b7d2b" ifOverflow="visible" />
          <ReferenceLine y={19} stroke="#2b7d2b" ifOverflow="visible" />
          <ReferenceLine y={0} stroke="#d0d0d0" ifOverflow="visible" />
          <Line dataKey="stochDot" stroke="#222" strokeWidth={1} strokeDasharray="1 2" dot={false} connectNulls type="linear" isAnimationActive={false} />
          <Line dataKey="stochGray" stroke="#8a8a8a" strokeWidth={2.5} dot={false} connectNulls type="monotone" isAnimationActive={false} />
          <Line dataKey="stochGreen" stroke="#33dd33" strokeWidth={2.5} dot={false} connectNulls type="monotone" isAnimationActive={false} />
          {stochStrokes.map((s, j) => (
            <ReferenceLine key={"ss" + j} segment={[{ x: s[0], y: s[1] }, { x: s[2], y: s[3] }]} stroke="#1f2fd0" strokeWidth={2.5} ifOverflow="visible" />
          ))}
          <ReferenceLine y={81.51} stroke="none" ifOverflow="visible" label={<Tag tagText="81.51" tagBg="#858585" tagFg="#111" tagW={40} />} />
          <ReferenceLine y={73.68} stroke="none" ifOverflow="visible" label={<Tag tagText="73.68" tagBg="#000" tagFg="#fff" tagW={40} />} />
        </ComposedChart>
      </div>

      {/* MACD-style oscillator */}
      <div style={abs(822, 56)}>
        <ComposedChart width={CW} height={56} data={rows} margin={{ top: 0, right: 76, bottom: 0, left: 0 }}>
          {hiddenX}
          <YAxis hide domain={[-1.82, 1.913]} allowDataOverflow />
          <Area dataKey="macdHist" baseValue={0} stroke="#111" strokeWidth={1} fill="url(#hatch)" fillOpacity={1} dot={false} connectNulls type="linear" isAnimationActive={false} />
          <ReferenceLine y={0} stroke="#000" strokeWidth={1} ifOverflow="visible" />
          <Line dataKey="macdGray" stroke="#8a8a8a" strokeWidth={3} dot={false} connectNulls type="monotone" isAnimationActive={false} />
          <Line dataKey="macdGreen" stroke="#33ee33" strokeWidth={3} dot={false} connectNulls type="monotone" isAnimationActive={false} />
          {macdBlueLabels.map((g, j) => (
            <ReferenceDot key={"mb" + j} x={g[0]} y={g[1]} r={0} shape={textShape(g[2], "#1f1fbf", 15)} ifOverflow="visible" />
          ))}
          {macdGrayLabels.map((g, j) => (
            <ReferenceDot key={"mg" + j} x={g[0]} y={g[1]} r={0} shape={textShape(g[2], GRAYTXT, 15)} ifOverflow="visible" />
          ))}
          <ReferenceLine y={0.152} stroke="none" ifOverflow="visible" label={<Tag tagText="0.152" tagBg="#33ee33" tagFg="#111" tagW={40} />} />
          <ReferenceLine y={0.802} stroke="none" ifOverflow="visible" label={<Tag tagText="0.802" tagBg="#858585" tagFg="#111" tagW={40} />} />
        </ComposedChart>
      </div>

      {/* MARKERS + TIME AXIS */}
      <div style={abs(878, 74)}>
        <ComposedChart width={CW} height={74} data={rows} margin={{ top: 6, right: 76, bottom: 26, left: 0 }}>
          <XAxis
            type="number" dataKey="i" domain={XD} allowDataOverflow ticks={timeTicks} interval={0} height={30}
            tickFormatter={(v: number) => timeLabels[timeTicks.indexOf(v)] ?? ""}
            tick={{ fill: "#000", fontSize: 13 }} tickLine={{ stroke: "#000" }} axisLine={{ stroke: "#000" }} tickSize={7} tickMargin={3}
          />
          <YAxis hide domain={[0, 1]} allowDataOverflow />
          <Bar dataKey="mk" barSize={3} fill="#f5a31a" isAnimationActive={false} />
          <ReferenceLine y={0.33} stroke="none" ifOverflow="visible" label={<Tag tagText="0" tagBg="#f5a623" tagFg="#111" tagW={11} />} />
        </ComposedChart>
      </div>

      {/* FRAME + TEXT OVERLAY */}
      <svg width={CW} height={952} style={{ position: "absolute", left: 0, top: 0, pointerEvents: "none" }}>
        <g stroke="#000" strokeWidth={1} shapeRendering="crispEdges">
          <line x1={0} y1={26.5} x2={CW} y2={26.5} />
          <line x1={1.5} y1={26} x2={1.5} y2={951} />
          <line x1={995.5} y1={26} x2={995.5} y2={951} />
          <line x1={0} y1={950.5} x2={CW} y2={950.5} />
          <line x1={920.5} y1={26} x2={920.5} y2={951} />
          <line x1={0} y1={690.5} x2={CW} y2={690.5} />
          <line x1={0} y1={753.5} x2={CW} y2={753.5} />
          <line x1={0} y1={822.5} x2={CW} y2={822.5} />
          <line x1={0} y1={878.5} x2={CW} y2={878.5} />
        </g>
        <text x={495} y={18.5} textAnchor="middle" fontSize={15} fill="#111" fontFamily={FONT} style={{ whiteSpace: "pre" }}>
          {"ES 03-17 (2 Min)  1/26/2017"}
        </text>
        <text x={3} y={673} fontSize={19} fill="#000" fontFamily={FONT} textLength={909} lengthAdjust="spacingAndGlyphs">
          bled since either you are disconnected or current time is outside session time or chart end date
        </text>
        <text x={4} y={714.5} fontSize={13} fill="#111" fontFamily={FONT}>VolSMA(ES 03-17 (2 Min),10)</text>
        <text x={4} y={894} fontSize={12} fill="#222" fontFamily={FONT}>© 2017 NinjaTrader, LLC</text>
      </svg>
    </div>
  );
}
